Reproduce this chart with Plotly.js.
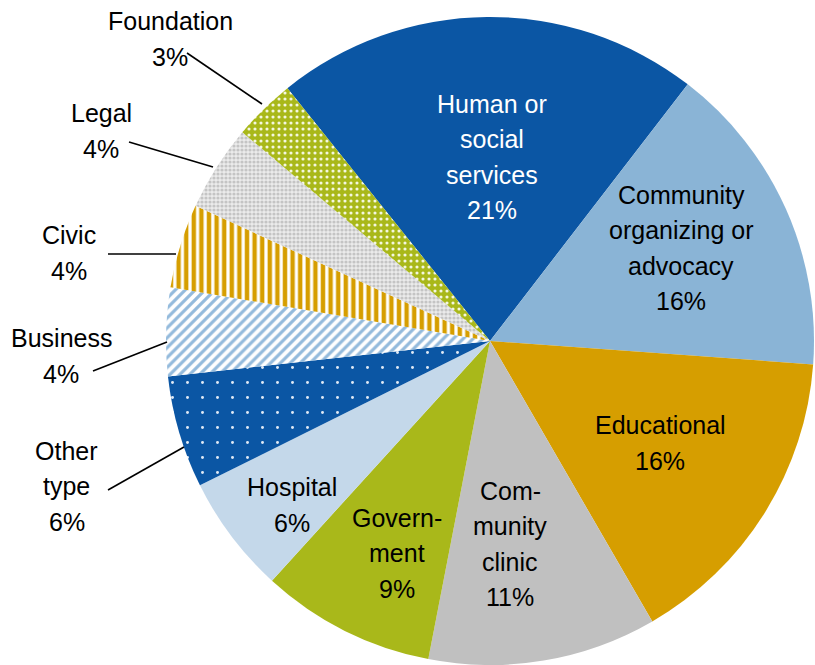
<!DOCTYPE html>
<html>
<head>
<meta charset="utf-8">
<script src="https://cdn.plot.ly/plotly-3.0.1.min.js"></script>
<style>
  html, body { margin: 0; padding: 0; background: #ffffff; }
  #chart { width: 815px; height: 665px; }
</style>
</head>
<body>
<div id="chart"></div>
<script>
// ---- data ----
const categories = ['Human or social services', 'Community organizing or advocacy', 'Educational',
  'Community clinic', 'Government', 'Hospital', 'Other type', 'Business', 'Civic', 'Legal', 'Foundation'];
const shares = [21.2, 15.7, 15.5, 11.4, 8.7, 5.9, 5.6, 4.4, 4.2, 4.3, 3.1];
const labelLines = [['Human or', 'social', 'services'], ['Community', 'organizing or', 'advocacy'],
  ['Educational'], ['Com-', 'munity', 'clinic'], ['Govern-', 'ment'], ['Hospital'],
  ['Other', 'type'], ['Business'], ['Civic'], ['Legal'], ['Foundation']];

// ---- styles ----
const sliceColors = ['#0B56A4', '#8AB4D6', '#D69E00', '#C0C0C0', '#A9B81A', '#C4D8EA',
  '#0B56A4', '#8FB8DC', '#D69E00', '#D0D0D0', '#A9B81A'];
const patShape = ['', '', '', '', '', '', '.', '/', '|', '.', '.'];
const patBg = ['#0B56A4', '#8AB4D6', '#D69E00', '#C0C0C0', '#A9B81A', '#C4D8EA',
  '#0B56A4', '#ffffff', '#ffffff', '#ececec', '#A9B81A'];
const patFg = ['#0B56A4', '#8AB4D6', '#D69E00', '#C0C0C0', '#A9B81A', '#C4D8EA',
  '#dfe9f5', '#93BADC', '#D69E00', '#c4c4c4', '#f4f7e0'];
const patSize = [8, 8, 8, 8, 8, 8, 15, 7, 7.6, 4, 6];
const patSolid = [0.3, 0.3, 0.3, 0.3, 0.3, 0.3, 0.03, 0.45, 0.58, 0.5, 0.22];
const textColors = ['#ffffff', '#000000', '#000000', '#000000', '#000000', '#000000',
  '#000000', '#000000', '#000000', '#000000', '#000000'];
// label centres (pixels) and leader lines (pixels)
const labelPos = [[492, 157], [681, 248], [660, 443], [510, 544], [397, 553], [292, 505],
  [67, 486], [61, 356], [69, 253], [101, 131], [170, 39]];
const leaders = [null, null, null, null, null, null,
  [108, 490, 184, 447], [93, 371, 167, 342], [108, 254, 176, 254], [129, 142, 213, 167], [187, 53, 262, 104]];

const W = 815, H = 665;
const M = {l: 166, r: 1, t: 17, b: 0};
const PW = W - M.l - M.r, PH = H - M.t - M.b;
const px = x => (x - M.l) / PW;
const py = y => 1 - (y - M.t) / PH;
const LINE = 35.5;
const FONT = 'Liberation Sans, Arial, sans-serif';

const annotations = [];
const shapes = [];
categories.forEach((c, i) => {
  const lines = labelLines[i].concat([Math.round(shares[i]) + '%']);
  const n = lines.length;
  lines.forEach((t, k) => {
    const yPix = labelPos[i][1] + (k - (n - 1) / 2) * LINE;
    annotations.push({
      xref: 'paper', yref: 'paper', x: px(labelPos[i][0]), y: py(yPix),
      xanchor: 'center', yanchor: 'middle', showarrow: false, text: t,
      font: {family: FONT, size: 25, color: textColors[i]}
    });
  });
  const L = leaders[i];
  if (L) {
    shapes.push({type: 'line', xref: 'paper', yref: 'paper',
      x0: px(L[0]), y0: py(L[1]), x1: px(L[2]), y1: py(L[3]),
      line: {color: '#000000', width: 1.6}});
  }
});

const trace = {
  type: 'pie',
  labels: categories,
  values: shares,
  sort: false,
  direction: 'clockwise',
  rotation: -38.7,
  textinfo: 'none',
  hoverinfo: 'label+percent',
  showlegend: false,
  marker: {
    colors: sliceColors,
    line: {width: 0},
    pattern: {shape: patShape, bgcolor: patBg, fgcolor: patFg, size: patSize, solidity: patSolid}
  }
};

const layout = {
  width: W, height: H,
  margin: M,
  paper_bgcolor: '#ffffff',
  showlegend: false,
  annotations: annotations,
  shapes: shapes,
  font: {family: FONT}
};

Plotly.newPlot('chart', [trace], layout, {displayModeBar: false, staticPlot: true});
</script>
</body>
</html>
